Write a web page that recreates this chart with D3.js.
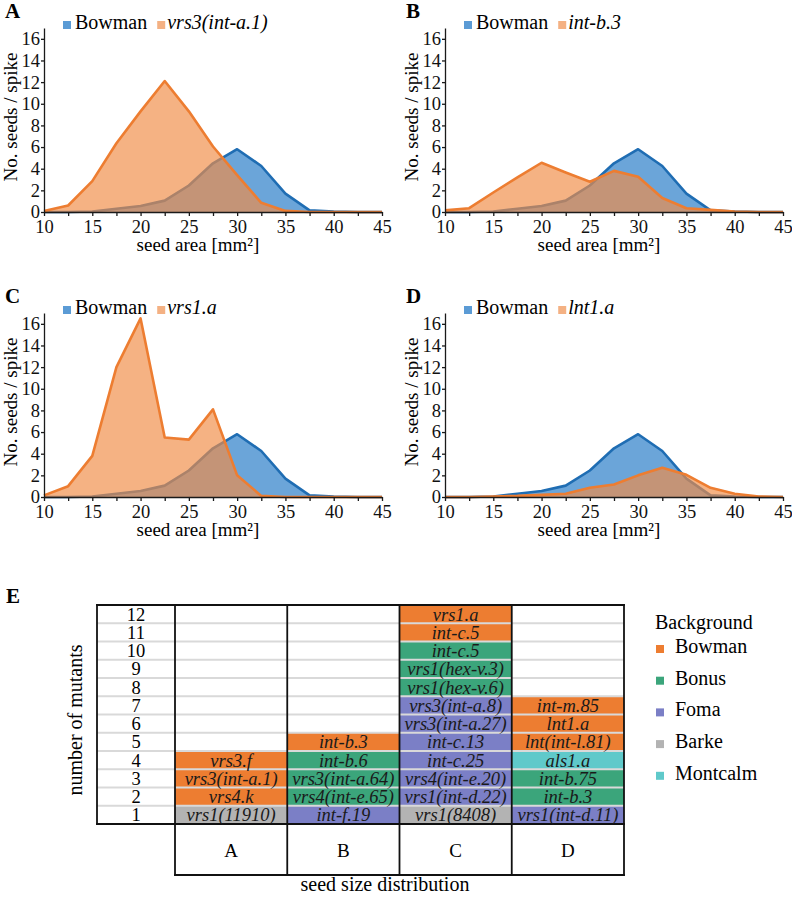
<!DOCTYPE html>
<html>
<head>
<meta charset="utf-8">
<script src="https://cdn.jsdelivr.net/npm/d3@7"></script>
<style>
body { margin: 0; background: #fff; }
svg, svg text { font-family: "Liberation Serif", "Times New Roman", Times, serif !important; }
</style>
</head>
<body>
<svg id="fig" width="792" height="901"></svg>
<script>
// seed area classes (mm²) and axis ticks
const seedArea = [10, 12.5, 15, 17.5, 20, 22.5, 25, 27.5, 30, 32.5, 35, 37.5, 40, 42.5, 45]
const xLabels = [10, 15, 20, 25, 30, 35, 40, 45]
const yTicks = [0, 2, 4, 6, 8, 10, 12, 14, 16]

// seeds per spike
const bowman     = [0, 0, 0.05, 0.3, 0.55, 1.05, 2.45, 4.5, 5.8, 4.25, 1.7, 0.15, 0.05, 0, 0]
const vrs3_int_a1 = [0.1, 0.6, 2.85, 6.35, 9.3, 12.1, 9.3, 6.05, 3.4, 0.85, 0.1, 0, 0, 0, 0]
const int_b3     = [0.15, 0.35, 1.8, 3.2, 4.55, 3.65, 2.8, 3.8, 3.25, 1.3, 0.35, 0.2, 0.05, 0, 0]
const vrs1_a     = [0.15, 1.0, 3.8, 12.0, 16.5, 5.5, 5.3, 8.1, 2.0, 0.1, 0, 0, 0, 0, 0]
const lnt1_a     = [0, 0, 0.05, 0.1, 0.2, 0.3, 0.85, 1.15, 2.0, 2.7, 2.05, 0.85, 0.3, 0.05, 0]

const panelLetters = ["A", "B", "C", "D"]
const mutantNames = ["vrs3(int-a.1)", "int-b.3", "vrs1.a", "lnt1.a"]
const mutantSeries = [vrs3_int_a1, int_b3, vrs1_a, lnt1_a]

// panel E: mutants per seed size distribution group, listed bottom to top
const rowNumbers = [1, 2, 3, 4, 5, 6, 7, 8, 9, 10, 11, 12]
const groupLabels = ["A", "B", "C", "D"]
const groupA = ["vrs1(11910)", "vrs4.k", "vrs3(int-a.1)", "vrs3.f"]
const groupABg = ["Barke", "Bowman", "Bowman", "Bowman"]
const groupB = ["int-f.19", "vrs4(int-e.65)", "vrs3(int-a.64)", "int-b.6", "int-b.3"]
const groupBBg = ["Foma", "Bonus", "Bonus", "Bonus", "Bowman"]
const groupC = ["vrs1(8408)", "vrs1(int-d.22)", "vrs4(int-e.20)", "int-c.25", "int-c.13", "vrs3(int-a.27)",
    "vrs3(int-a.8)", "vrs1(hex-v.6)", "vrs1(hex-v.3)", "int-c.5", "int-c.5", "vrs1.a"]
const groupCBg = ["Barke", "Foma", "Foma", "Foma", "Foma", "Foma", "Foma", "Bonus", "Bonus", "Bonus", "Bowman", "Bowman"]
const groupD = ["vrs1(int-d.11)", "int-b.3", "int-b.75", "als1.a", "lnt(int-l.81)", "lnt1.a", "int-m.85"]
const groupDBg = ["Foma", "Bonus", "Bonus", "Montcalm", "Bowman", "Bowman", "Bowman"]
const backgrounds = ["Bowman", "Bonus", "Foma", "Barke", "Montcalm"]
const bgColors = ["#ed7d31", "#3ba57b", "#7b7fc6", "#b3b3b3", "#5fc9ca"]

const FONT = "'Liberation Serif', 'Times New Roman', Times, serif"
const svg = d3.select("#fig").attr("font-family", FONT)

// origin of each small chart (x of 10 mm², y of 0 seeds)
const panelPos = [{x: 44, y: 212}, {x: 445, y: 212}, {x: 44, y: 497}, {x: 445, y: 497}]

panelLetters.forEach(function (letter, i) {
    drawPanel(i)
})

function drawPanel(i) {
    const pos = panelPos[i]
    const x = d3.scaleLinear().domain([10, 45]).range([pos.x, pos.x + 338])
    const y = d3.scaleLinear().domain([0, 17]).range([pos.y, pos.y - 184])
    const g = svg.append("g")

    const area = d3.area()
        .x((d, j) => x(seedArea[j]))
        .y0(y(0))
        .y1(d => y(d))
    const line = d3.line()
        .x((d, j) => x(seedArea[j]))
        .y(d => y(d))

    g.append("path").datum(bowman).attr("d", area)
        .attr("fill", "#5b9bd5").attr("fill-opacity", 0.9)
    g.append("path").datum(bowman).attr("d", line)
        .attr("fill", "none").attr("stroke", "#1f6db3").attr("stroke-width", 2.6)
        .attr("stroke-linejoin", "round")
    g.append("path").datum(mutantSeries[i]).attr("d", area)
        .attr("fill", "#f08c46").attr("fill-opacity", 0.67)
    g.append("path").datum(mutantSeries[i]).attr("d", line)
        .attr("fill", "none").attr("stroke", "#ed7d31").attr("stroke-width", 2.6)
        .attr("stroke-linejoin", "round")

    // axes
    g.append("g")
        .attr("transform", `translate(${pos.x},0)`)
        .call(d3.axisLeft(y).tickValues(yTicks).tickSize(3).tickSizeOuter(0).tickPadding(1))
        .attr("font-family", FONT)
    g.append("g")
        .attr("transform", `translate(0,${pos.y})`)
        .call(d3.axisBottom(x).tickValues(seedArea).tickSize(4).tickSizeOuter(0).tickPadding(4)
            .tickFormat(d => xLabels.includes(d) ? d : ""))
        .attr("font-family", FONT)
    g.selectAll(".tick text").attr("font-size", 18.5).attr("fill", "#111")
    g.selectAll(".domain, .tick line").attr("stroke", "#1a1a1a").attr("stroke-width", 1.3)

    g.append("text")
        .attr("x", x(27.5) - 15)
        .attr("y", pos.y + 38.5)
        .attr("text-anchor", "middle")
        .attr("font-size", 19)
        .text("seed area [mm²]")

    g.append("text")
        .attr("transform", `translate(${pos.x - 27},${pos.y - 95}) rotate(-90)`)
        .attr("text-anchor", "middle")
        .attr("font-size", 19)
        .text("No. seeds / spike")

    // panel letter
    g.append("text")
        .attr("x", pos.x - 39)
        .attr("y", pos.y - 194)
        .attr("font-size", 21).attr("font-weight", "bold")
        .text(panelLetters[i])

    // legend
    const ly = pos.y - 183
    let lx = pos.x + 19
    g.append("rect").attr("x", lx).attr("y", ly - 8).attr("width", 8).attr("height", 8).attr("fill", "#5b9bd5")
    const t1 = g.append("text").attr("x", lx + 12).attr("y", ly).attr("font-size", 20).text("Bowman")
    lx = lx + 12 + t1.node().getComputedTextLength() + 10
    g.append("rect").attr("x", lx).attr("y", ly - 8).attr("width", 8).attr("height", 8).attr("fill", "#f4b183")
    g.append("text").attr("x", lx + 10).attr("y", ly).attr("font-size", 20).attr("font-style", "italic")
        .text(mutantNames[i])
}

// ---------- panel E ----------
const groups = [
    {names: groupA, bg: groupABg},
    {names: groupB, bg: groupBBg},
    {names: groupC, bg: groupCBg},
    {names: groupD, bg: groupDBg}
]
const bgColor = d3.scaleOrdinal().domain(backgrounds).range(bgColors)

const tLeft = 97, tNum = 175, tRight = 624, tTop = 605, tRows = 824, tBottom = 875
const gx = d3.scaleBand().domain(groupLabels).range([tNum, tRight])
const gy = d3.scaleBand().domain(rowNumbers.slice().reverse()).range([tTop, tRows])

const e = svg.append("g")

e.append("text").attr("x", 6).attr("y", 603)
    .attr("font-size", 21).attr("font-weight", "bold").text("E")

groups.forEach(function (grp, k) {
    e.selectAll(null)
        .data(grp.names)
        .join("rect")
        .attr("x", gx(groupLabels[k]))
        .attr("y", (d, j) => gy(rowNumbers[j]))
        .attr("width", gx.bandwidth())
        .attr("height", gy.bandwidth())
        .attr("fill", (d, j) => bgColor(grp.bg[j]))
})

// light row separators
e.selectAll(null)
    .data(rowNumbers.slice(0, 11))
    .join("line")
    .attr("x1", tLeft).attr("x2", tRight)
    .attr("y1", d => gy(d)).attr("y2", d => gy(d))
    .attr("stroke", "#d9d9d9").attr("stroke-width", 2)

// black borders
function bline(x1, y1, x2, y2) {
    e.append("line").attr("x1", x1).attr("y1", y1).attr("x2", x2).attr("y2", y2)
        .attr("stroke", "#111").attr("stroke-width", 1.8).attr("stroke-linecap", "square")
}
bline(tLeft, tTop, tRight, tTop)
bline(tLeft, tRows, tRight, tRows)
bline(tLeft, tTop, tLeft, tRows)
bline(tNum, tBottom, tRight, tBottom)
bline(tNum, tTop, tNum, tBottom)
groupLabels.forEach(function (g) {
    bline(gx(g) + gx.bandwidth(), tTop, gx(g) + gx.bandwidth(), tBottom)
})

// row numbers
e.selectAll(null)
    .data(rowNumbers)
    .join("text")
    .attr("x", (tLeft + tNum) / 2)
    .attr("y", d => gy(d) + gy.bandwidth() / 2)
    .attr("dy", "0.35em")
    .attr("text-anchor", "middle")
    .attr("font-size", 18.5)
    .text(d => d)

// mutant names
groups.forEach(function (grp, k) {
    e.selectAll(null)
        .data(grp.names)
        .join("text")
        .attr("x", gx(groupLabels[k]) + gx.bandwidth() / 2)
        .attr("y", (d, j) => gy(rowNumbers[j]) + gy.bandwidth() / 2)
        .attr("dy", "0.35em")
        .attr("text-anchor", "middle")
        .attr("font-size", 18.5).attr("font-style", "italic")
        .attr("fill", "#1a1a1a")
        .text(d => d)
})

// group labels
e.selectAll(null)
    .data(groupLabels)
    .join("text")
    .attr("x", d => gx(d) + gx.bandwidth() / 2)
    .attr("y", 857)
    .attr("text-anchor", "middle")
    .attr("font-size", 19)
    .text(d => d)

e.append("text")
    .attr("x", 385).attr("y", 891)
    .attr("text-anchor", "middle")
    .attr("font-size", 20)
    .text("seed size distribution")

e.append("text")
    .attr("transform", `translate(82,720) rotate(-90)`)
    .attr("text-anchor", "middle")
    .attr("font-size", 20)
    .text("number of mutants")

// legend
e.append("text").attr("x", 655).attr("y", 629).attr("font-size", 20).text("Background")
backgrounds.forEach(function (b, k) {
    const yy = 645 + k * 31.7
    e.append("rect").attr("x", 656).attr("y", yy).attr("width", 8).attr("height", 8).attr("fill", bgColors[k])
    e.append("text").attr("x", 675).attr("y", yy + 8).attr("font-size", 20).text(b)
})
</script>
</body>
</html>
